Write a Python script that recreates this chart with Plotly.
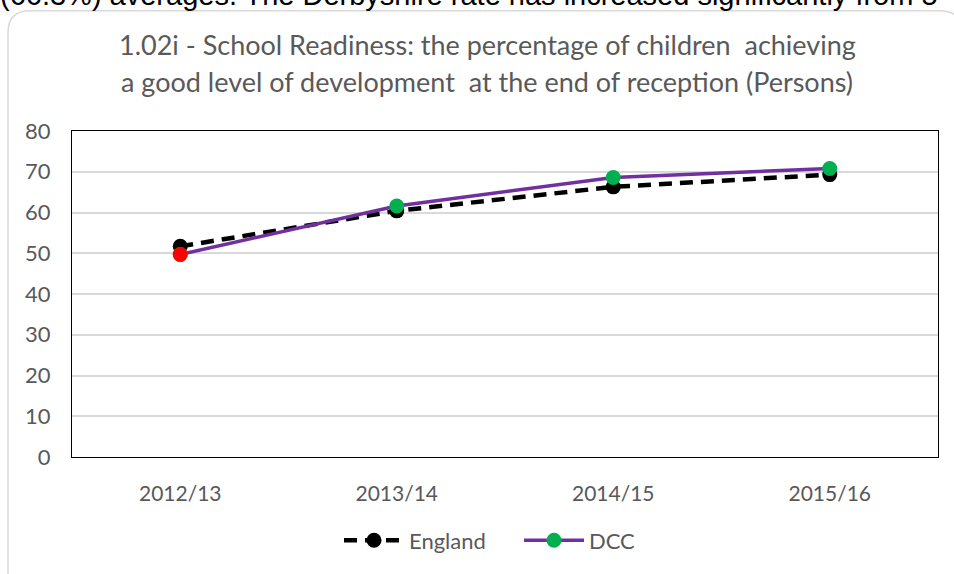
import plotly.graph_objects as go

# School Readiness: % of children achieving a good level of development
years = ["2012/13", "2013/14", "2014/15", "2015/16"]
england = [51.7, 60.4, 66.3, 69.3]
dcc = [49.7, 61.6, 68.6, 70.8]
# the first DCC point is flagged red, the others green
flagged_index = 0

title_lines = [
    "1.02i - School Readiness: the percentage of children  achieving",
    "a good level of development  at the end of reception (Persons)",
]
page_text = "(66.3%) averages. The Derbyshire rate has increased significantly from 5"

FONT = "Lato, Calibri, sans-serif"
GREY = "#595959"

W, H = 954, 574
L, R, T, B = 72, 16, 131, 115
PW, PH = W - L - R, H - T - B


def px(x):
    return (x - L) / PW


def py(y):
    return (H - B - y) / PH


fig = go.Figure()
fig.add_trace(go.Scatter(
    x=years, y=england, name="England", mode="lines+markers",
    line=dict(color="black", width=4.5, dash="13px,8px"),
    marker=dict(color="black", size=15),
))
fig.add_trace(go.Scatter(
    x=years, y=dcc, name="DCC", mode="lines+markers",
    line=dict(color="#7030A0", width=3.5),
    marker=dict(color="#00B050", size=15),
))
fig.add_trace(go.Scatter(
    x=[years[flagged_index]], y=[dcc[flagged_index]], mode="markers",
    marker=dict(color="#FF0000", size=15), showlegend=False, hoverinfo="skip",
))

# rounded chart-area frame
x0, x1, y0, y1, r = 8, 962, 10, 590, 22
frame = (
    f"M {px(x0)},{py(y1)} L {px(x0)},{py(y0 + r)} "
    f"Q {px(x0)},{py(y0)} {px(x0 + r)},{py(y0)} "
    f"L {px(x1 - r)},{py(y0)} Q {px(x1)},{py(y0)} {px(x1)},{py(y0 + r)} "
    f"L {px(x1)},{py(y1)}"
)
fig.add_shape(type="path", path=frame, xref="paper", yref="paper",
              line=dict(color="#D9D9D9", width=1.5), layer="below")

annotations = [
    dict(text=title_lines[0], x=px(487), y=py(44)),
    dict(text=title_lines[1], x=px(487), y=py(81)),
]
annotations = [dict(a, xref="paper", yref="paper", xanchor="center", yanchor="middle",
                    showarrow=False, font=dict(family=FONT, size=27, color=GREY))
               for a in annotations]
annotations.append(dict(
    text=page_text, x=px(-2), y=py(-6), xref="paper", yref="paper",
    xanchor="left", yanchor="middle", showarrow=False,
    font=dict(family="Liberation Sans, Arial", size=29, color="black"),
))

fig.update_layout(
    width=W, height=H,
    margin=dict(l=L, r=R, t=T, b=B),
    paper_bgcolor="white", plot_bgcolor="white",
    font=dict(family=FONT, color=GREY, size=22),
    annotations=annotations,
    showlegend=True,
    legend=dict(orientation="h", x=px(339), y=py(543), xanchor="left",
                yanchor="middle", font=dict(family=FONT, size=22, color=GREY),
                itemwidth=60, entrywidth=105, entrywidthmode="pixels",
                traceorder="normal"),
    xaxis=dict(
        range=[-0.5, 3.5],
        showline=True, mirror=True, linecolor="black", linewidth=1,
        showgrid=False, ticks="outside", ticklen=18, tickcolor="rgba(0,0,0,0)",
        tickfont=dict(size=21, color=GREY),
    ),
    yaxis=dict(
        range=[0, 80], dtick=10, showline=True, mirror=True, linecolor="black",
        linewidth=1, showgrid=True, gridcolor="#D9D9D9", gridwidth=1.5,
        zeroline=False, ticks="outside", ticklen=16, tickcolor="rgba(0,0,0,0)",
        tickfont=dict(size=22, color=GREY),
    ),
)

fig.write_html("out.html")
